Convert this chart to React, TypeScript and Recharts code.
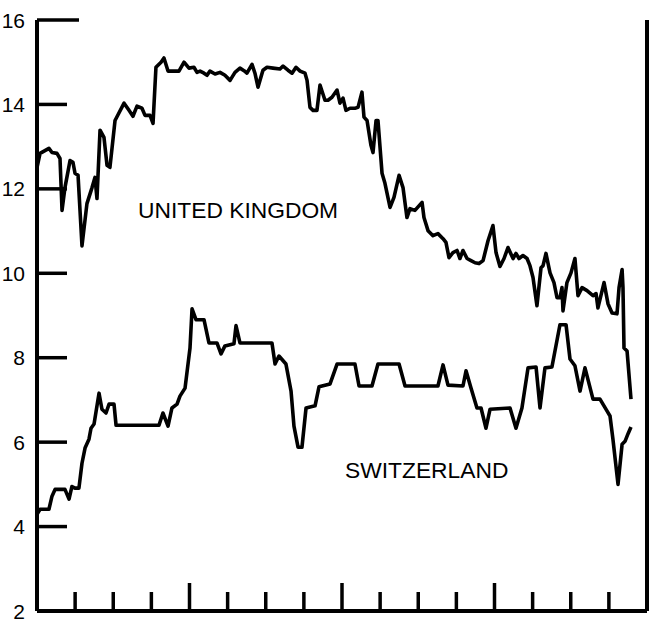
import { LineChart, Line, XAxis, YAxis } from 'recharts'

// interest rates, monthly axis (48 months = 16 quarters)
const rateTicks = [2, 4, 6, 8, 10, 12, 14, 16]
const quarterTicks = [3, 6, 9, 12, 15, 18, 21, 24, 27, 30, 33, 36, 39, 42, 45]
const yearTicks = [12, 24, 36]

const ukMonth = [
  0, 0.24, 0.94, 1.18, 1.57, 1.81, 1.97, 2.2, 2.6, 2.83, 2.99, 3.23, 3.54, 3.93, 4.33, 4.56, 4.72, 4.96,
  5.27, 5.51, 5.74, 6.14, 6.85, 7.24, 7.55, 7.87, 8.26, 8.5, 8.89, 9.13, 9.36, 9.76, 9.99, 10.31, 11.17,
  11.57, 11.96, 12.35, 12.59, 12.83, 13.14, 13.38, 13.61, 14.01, 14.4, 14.79, 15.19, 15.58, 15.97, 16.29,
  16.52, 16.92, 17.15, 17.39, 17.78, 18.1, 18.57, 19.12, 19.36, 19.75, 20.07, 20.38, 20.7, 21.09, 21.25,
  21.48, 21.72, 22.03, 22.27, 22.66, 22.9, 23.21, 23.61, 23.84, 24.08, 24.31, 24.63, 25.02, 25.26, 25.57,
  25.73, 25.97, 26.28, 26.44, 26.68, 26.83, 27.15, 27.38, 27.78, 28.09, 28.49, 28.8, 29.11, 29.35, 29.74,
  30.3, 30.45, 30.77, 31.16, 31.55, 31.95, 32.18, 32.42, 32.73, 33.05, 33.28, 33.52, 33.84, 34.15, 34.47,
  34.78, 35.1, 35.49, 35.88, 36.12, 36.43, 36.75, 37.06, 37.46, 37.69, 37.93, 38.24, 38.56, 38.79, 39.03,
  39.34, 39.66, 39.82, 40.05, 40.37, 40.68, 40.92, 41.15, 41.31, 41.39, 41.7, 42.02, 42.33, 42.57, 42.89,
  43.28, 43.75, 43.99, 44.14, 44.62, 44.93, 45.25, 45.64, 45.8, 46.04, 46.11, 46.19, 46.43, 46.74,
]
const ukRate = [
  12.5, 12.84, 12.96, 12.86, 12.84, 12.72, 11.49, 12.03, 12.67, 12.63, 12.37, 12.32, 10.65, 11.65, 12.03,
  12.27, 11.77, 13.39, 13.22, 12.56, 12.51, 13.62, 14.03, 13.86, 13.72, 13.96, 13.91, 13.74, 13.74, 13.55,
  14.88, 15.0, 15.1, 14.79, 14.79, 15.0, 14.86, 14.88, 14.76, 14.79, 14.74, 14.69, 14.79, 14.72, 14.76,
  14.69, 14.57, 14.76, 14.86, 14.8, 14.74, 14.95, 14.74, 14.41, 14.81, 14.88, 14.86, 14.84, 14.91, 14.81,
  14.74, 14.88, 14.79, 14.74, 14.57, 13.93, 13.86, 13.86, 14.46, 14.1, 14.1, 14.17, 14.34, 14.03, 14.15,
  13.86, 13.91, 13.91, 13.93, 14.29, 13.7, 13.62, 13.03, 12.86, 13.62, 13.62, 12.37, 12.13, 11.56, 11.8,
  12.32, 12.03, 11.32, 11.53, 11.49, 11.68, 11.32, 11.01, 10.89, 10.94, 10.82, 10.73, 10.37, 10.49, 10.54,
  10.35, 10.54, 10.35, 10.3, 10.25, 10.23, 10.3, 10.77, 11.13, 10.49, 10.16, 10.35, 10.61, 10.35, 10.47,
  10.35, 10.42, 10.35, 10.18, 9.9, 9.23, 10.13, 10.18, 10.47, 10.01, 9.78, 9.42, 9.42, 9.66, 9.11, 9.78,
  10.01, 10.35, 9.47, 9.66, 9.59, 9.47, 9.52, 9.18, 9.78, 9.28, 9.06, 9.04, 9.66, 10.09, 9.66, 8.23, 8.16,
  7.02,
]

const chMonth = [
  0, 0.24, 0.94, 1.18, 1.42, 2.2, 2.52, 2.75, 2.99, 3.3, 3.54, 3.78, 4.09, 4.25, 4.49, 4.88, 5.11, 5.43,
  5.67, 6.06, 6.22, 9.6, 9.91, 10.31, 10.62, 11.02, 11.25, 11.65, 12.04, 12.2, 12.51, 13.14, 13.53, 14.16,
  14.48, 14.79, 15.5, 15.66, 15.97, 18.49, 18.73, 19.04, 19.59, 19.99, 20.22, 20.54, 20.85, 21.17, 21.88,
  22.19, 23.06, 23.61, 25.02, 25.34, 26.36, 26.83, 28.49, 28.96, 31.55, 31.95, 32.34, 33.52, 33.76, 34.15,
  34.62, 34.94, 35.33, 35.65, 37.22, 37.69, 38.16, 38.64, 39.27, 39.58, 39.97, 40.52, 41.15, 41.63, 41.94,
  42.33, 42.73, 43.12, 43.75, 44.3, 44.85, 45.09, 45.32, 45.72, 46.04, 46.27, 46.51, 46.74,
]
const chRate = [
  4.29, 4.41, 4.41, 4.72, 4.88, 4.88, 4.65, 4.95, 4.91, 4.91, 5.5, 5.86, 6.07, 6.33, 6.43, 7.16, 6.78, 6.69,
  6.9, 6.9, 6.4, 6.4, 6.69, 6.38, 6.81, 6.9, 7.09, 7.28, 8.23, 9.16, 8.9, 8.9, 8.35, 8.35, 8.09, 8.28, 8.33,
  8.76, 8.35, 8.35, 7.85, 8.04, 7.85, 7.21, 6.38, 5.88, 5.88, 6.81, 6.86, 7.31, 7.38, 7.85, 7.85, 7.33,
  7.33, 7.85, 7.85, 7.33, 7.33, 7.83, 7.35, 7.33, 7.69, 7.28, 6.81, 6.81, 6.33, 6.78, 6.81, 6.33, 6.81,
  7.76, 7.78, 6.81, 7.76, 7.78, 8.78, 8.78, 7.97, 7.81, 7.21, 7.76, 7.02, 7.02, 6.74, 6.62, 6.07, 5.0, 5.95,
  6.02, 6.2, 6.36,
]

const ukData = ukMonth.map((m, i) => ({ month: m, rate: ukRate[i] }))
const chData = chMonth.map((m, i) => ({ month: m, rate: chRate[i] }))

const FONT = '"Liberation Sans", Arial, Helvetica, sans-serif'

function LeftTick({ x, y, payload }: any) {
  const v = payload.value
  return (
    <g>
      {v !== 2 && (
        <line x1={x} x2={x + (v === 16 ? 42 : 30)} y1={y} y2={y} stroke="#000" strokeWidth={3.5} />
      )}
      <text x={x - 12} y={y} dy="0.36em" textAnchor="end" fontSize={21} fontFamily={FONT} fill="#000">
        {v}
      </text>
    </g>
  )
}

function RightTick({ x, y, payload }: any) {
  const v = payload.value
  if (v === 2) return <g />
  return <line x1={x - (v === 16 ? 38 : 29)} x2={x} y1={y} y2={y} stroke="#000" strokeWidth={3.5} />
}

function BottomTick({ x, y, payload }: any) {
  const len = yearTicks.includes(payload.value) ? 28 : 19
  return <line x1={x} x2={x} y1={y} y2={y - len} stroke="#000" strokeWidth={3.5} />
}

export default function App() {
  return (
    <div style={{ position: 'absolute', left: 0, top: 0, width: 651, height: 624, background: '#fff' }}>
      <LineChart width={651} height={624} margin={{ top: 20, right: 0, bottom: 0, left: 0 }}>
        <XAxis
          dataKey="month"
          type="number"
          domain={[0, 48]}
          ticks={quarterTicks}
          interval={0}
          height={13}
          tickSize={0}
          tickMargin={0}
          tickLine={false}
          tick={<BottomTick />}
          axisLine={{ stroke: '#000', strokeWidth: 4 }}
        />
        <YAxis
          yAxisId="left"
          domain={[2, 16]}
          ticks={rateTicks}
          interval={0}
          width={37}
          tickSize={0}
          tickMargin={0}
          tickLine={false}
          tick={<LeftTick />}
          axisLine={{ stroke: '#000', strokeWidth: 4 }}
        />
        <YAxis
          yAxisId="right"
          orientation="right"
          domain={[2, 16]}
          ticks={rateTicks}
          interval={0}
          width={4}
          tickSize={0}
          tickMargin={0}
          tickLine={false}
          tick={<RightTick />}
          axisLine={{ stroke: '#000', strokeWidth: 4 }}
        />
        <Line
          yAxisId="left"
          data={ukData}
          dataKey="rate"
          type="linear"
          stroke="#000"
          strokeWidth={3.6}
          strokeLinejoin="round"
          dot={false}
          isAnimationActive={false}
        />
        <Line
          yAxisId="left"
          data={chData}
          dataKey="rate"
          type="linear"
          stroke="#000"
          strokeWidth={3.6}
          strokeLinejoin="round"
          dot={false}
          isAnimationActive={false}
        />
      </LineChart>
      <svg
        width={651}
        height={624}
        style={{ position: 'absolute', left: 0, top: 0, pointerEvents: 'none' }}
      >
        <text x={138} y={218} fontSize={22.8} fontFamily={FONT} fill="#000">
          UNITED KINGDOM
        </text>
        <text x={345} y={478} fontSize={22.8} fontFamily={FONT} fill="#000">
          SWITZERLAND
        </text>
      </svg>
    </div>
  )
}
